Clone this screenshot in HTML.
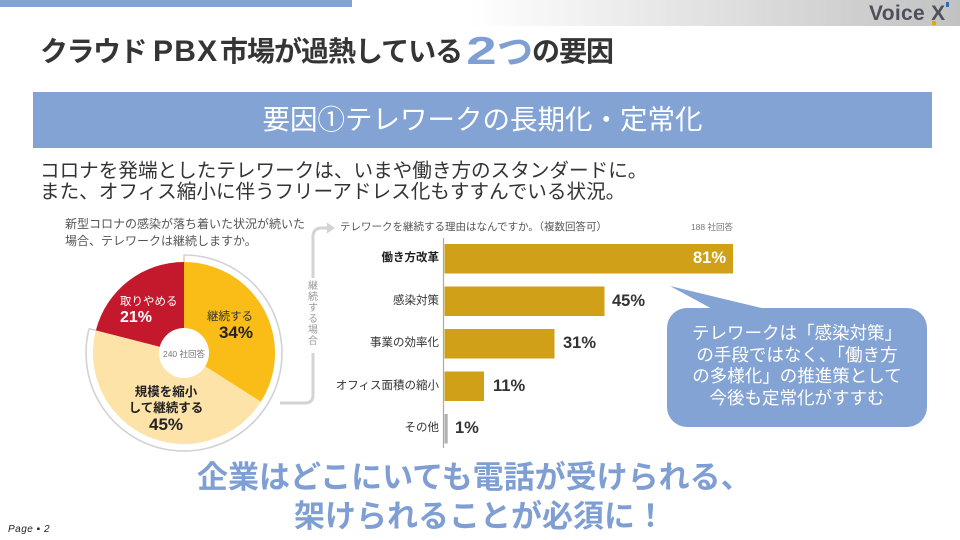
<!DOCTYPE html>
<html><head><meta charset="utf-8">
<style>
*{margin:0;padding:0;box-sizing:border-box}
html,body{width:960px;height:540px;overflow:hidden;background:#fff}
body{position:relative;font-family:"Liberation Sans","Noto Sans CJK JP",sans-serif;color:#333}
.a{position:absolute;white-space:nowrap}
svg{position:absolute;left:0;top:0}
</style></head><body>
<svg width="960" height="540" viewBox="0 0 960 540">
  <defs>
    <linearGradient id="g" x1="0" x2="1" y1="0" y2="0">
      <stop offset="0" stop-color="#ffffff"/>
      <stop offset="1" stop-color="#c2c2c2"/>
    </linearGradient>
  </defs>
  <rect x="470" y="0" width="490" height="26" fill="url(#g)"/>
  <rect x="0" y="0" width="352" height="7" fill="#82a2d3"/>
  <rect x="946" y="2" width="3" height="5" fill="#2a6fb5"/>
  <rect x="932" y="21" width="4" height="4" fill="#e8a020"/>
  <!-- banner -->
  <rect x="33" y="92" width="899" height="56" fill="#83a3d4"/>
  <!-- pie -->
  <path d="M184,353 L184,262 A91,91 0 0 1 260.83,401.76 Z" fill="#fabd18"/>
  <path d="M184,353 L260.83,401.76 A91,91 0 0 1 95.86,330.37 Z" fill="#fde3a8"/>
  <path d="M184,353 L95.86,330.37 A91,91 0 0 1 184,262 Z" fill="#c4182d"/>
  <circle cx="184" cy="353" r="25" fill="#fff"/>
  <path d="M184,255 A98,98 0 1 1 89.08,328.63" fill="none" stroke="#d2d2d2" stroke-width="1.6"/>
  <line x1="184" y1="254.5" x2="184" y2="262" stroke="#d2d2d2" stroke-width="1.6"/>
  <line x1="89.08" y1="328.63" x2="96" y2="330.4" stroke="#d2d2d2" stroke-width="1.6"/>
  <!-- connector -->
  <path d="M280,403 L305,403 Q313,403 313,395 L313,353" fill="none" stroke="#d3d3d3" stroke-width="3"/>
  <path d="M313,278 L313,237 Q313,228 322,228 L328,228" fill="none" stroke="#d3d3d3" stroke-width="3"/>
  <polygon points="327,222.5 335,228 327,233.5" fill="#d3d3d3"/>
  <!-- bars -->
  <line x1="443.5" y1="238" x2="443.5" y2="448" stroke="#aaa" stroke-width="1.2"/>
  <rect x="444.5" y="244" width="288.5" height="29.5" fill="#d0a118"/>
  <rect x="444.5" y="286.5" width="160" height="29.5" fill="#d0a118"/>
  <rect x="444.5" y="329" width="110" height="29.5" fill="#d0a118"/>
  <rect x="444.5" y="371.5" width="39.5" height="29.5" fill="#d0a118"/>
  <rect x="444.5" y="414" width="3.2" height="29.5" fill="#b0b0b0"/>
  <!-- bubble -->
  <polygon points="670,286 774,311 716,311" fill="#83a3d4"/>
  <rect x="667" y="308" width="260" height="119" rx="20" ry="20" fill="#83a3d4"/>
</svg>

<!-- logo -->
<div class="a" style="left:869px;top:1px;font-size:21px;line-height:26px;font-weight:bold;color:#4b505b;letter-spacing:0.3px">Voice <span style="letter-spacing:0">X</span></div>

<!-- title -->
<div class="a" style="left:40px;top:37px;font-size:28px;line-height:30px;font-weight:bold;color:#353535;letter-spacing:-1.5px">クラウド</div>
<div class="a" style="left:153px;top:37px;font-size:30px;line-height:30px;font-weight:bold;color:#353535;letter-spacing:1.2px">PBX</div>
<div class="a" style="left:220px;top:37px;font-size:28px;line-height:30px;font-weight:bold;color:#353535;letter-spacing:-1px">市場が過熱している</div>
<div class="a" style="left:466px;top:31px;line-height:42px;font-weight:bold;color:#7f9fd4"><span style="display:inline-block;width:31px;text-align:center;font-size:39px;transform:scaleX(1.4)">2</span><span style="font-size:36px;vertical-align:top;display:inline-block;line-height:42px">つ</span></div>
<div class="a" style="left:532px;top:37px;font-size:28px;line-height:30px;font-weight:bold;color:#353535;letter-spacing:-1px">の要因</div>

<!-- banner text -->
<div class="a" style="left:33px;width:899px;top:104px;font-size:27.5px;line-height:32px;color:#fff;text-align:center">要因①テレワークの長期化・定常化</div>

<!-- body -->
<div class="a" style="left:40px;top:161px;font-size:19.6px;line-height:21px;color:#333">コロナを発端としたテレワークは、いまや働き方のスタンダードに。<br>また、オフィス縮小に伴うフリーアドレス化もすすんでいる状況。</div>

<!-- pie question -->
<div class="a" style="left:65px;top:216px;font-size:12px;line-height:17px;color:#555">新型コロナの感染が落ち着いた状況が続いた<br>場合、テレワークは継続しますか。</div>

<!-- pie labels -->
<div class="a" style="left:120px;top:295px;font-size:11.5px;line-height:14px;color:#fff">取りやめる</div>
<div class="a" style="left:120px;top:309px;font-size:16px;line-height:18px;font-weight:bold;color:#fff">21%</div>
<div class="a" style="left:193px;width:60px;text-align:right;top:310px;font-size:11.5px;line-height:14px;color:#333">継続する</div>
<div class="a" style="left:193px;width:60px;text-align:right;top:324px;font-size:17px;line-height:18px;font-weight:bold;color:#222">34%</div>
<div class="a" style="left:116px;width:100px;text-align:center;top:385px;font-size:12.5px;line-height:14px;font-weight:bold;color:#222">規模を縮小</div>
<div class="a" style="left:116px;width:100px;text-align:center;top:401px;font-size:12.5px;line-height:14px;font-weight:bold;color:#222">して継続する</div>
<div class="a" style="left:116px;width:100px;text-align:center;top:416px;font-size:17px;line-height:18px;font-weight:bold;color:#222">45%</div>
<div class="a" style="left:154px;width:60px;text-align:center;top:348px;font-size:8.5px;line-height:12px;color:#777">240 社回答</div>

<!-- vertical text -->
<div class="a" style="left:307px;width:12px;top:281px;font-size:10px;line-height:11px;color:#999;text-align:center;white-space:normal">継<br>続<br>す<br>る<br>場<br>合</div>

<!-- bar chart title -->
<div class="a" style="left:340px;top:220px;font-size:10.5px;line-height:14px;color:#555">テレワークを継続する理由はなんですか。（複数回答可）</div>
<div class="a" style="left:673px;width:60px;text-align:right;top:221px;font-size:8.5px;line-height:12px;color:#777">188 社回答</div>

<!-- bar labels -->
<div class="a" style="left:320px;width:119px;text-align:right;top:251px;font-size:11.5px;line-height:15px;font-weight:bold;color:#222">働き方改革</div>
<div class="a" style="left:320px;width:119px;text-align:right;top:294px;font-size:11.5px;line-height:15px;color:#333">感染対策</div>
<div class="a" style="left:320px;width:119px;text-align:right;top:336px;font-size:11.5px;line-height:15px;color:#333">事業の効率化</div>
<div class="a" style="left:320px;width:119px;text-align:right;top:378.5px;font-size:11.5px;line-height:15px;color:#333">オフィス面積の縮小</div>
<div class="a" style="left:320px;width:119px;text-align:right;top:421px;font-size:11.5px;line-height:15px;color:#333">その他</div>

<div class="a" style="left:660px;width:66px;text-align:right;top:249px;font-size:16.5px;line-height:19px;font-weight:bold;color:#fff">81%</div>
<div class="a" style="left:612px;top:292px;font-size:16.5px;line-height:19px;font-weight:bold;color:#333">45%</div>
<div class="a" style="left:563px;top:334px;font-size:16.5px;line-height:19px;font-weight:bold;color:#333">31%</div>
<div class="a" style="left:493px;top:377px;font-size:16.5px;line-height:19px;font-weight:bold;color:#333">11%</div>
<div class="a" style="left:455px;top:419px;font-size:16.5px;line-height:19px;font-weight:bold;color:#333">1%</div>

<!-- bubble text -->
<div class="a" style="left:667px;width:260px;top:323px;font-size:17.5px;line-height:21.5px;color:#fff;text-align:center">テレワークは「感染対策」<br>の手段ではなく、「働き方<br>の多様化」の推進策として<br>今後も定常化がすすむ</div>

<!-- bottom message -->
<div class="a" style="left:197px;top:461px;font-size:31px;line-height:34px;font-weight:bold;color:#7f9fd4">企業はどこにいても電話が受けられる、</div>
<div class="a" style="left:294px;top:500px;font-size:31px;line-height:34px;font-weight:bold;color:#7f9fd4">架けられることが必須に！</div>

<!-- page -->
<div class="a" style="left:8px;top:523px;font-size:10px;line-height:14px;font-style:italic;color:#222;letter-spacing:0.5px">Page ▪ 2</div>
</body></html>
